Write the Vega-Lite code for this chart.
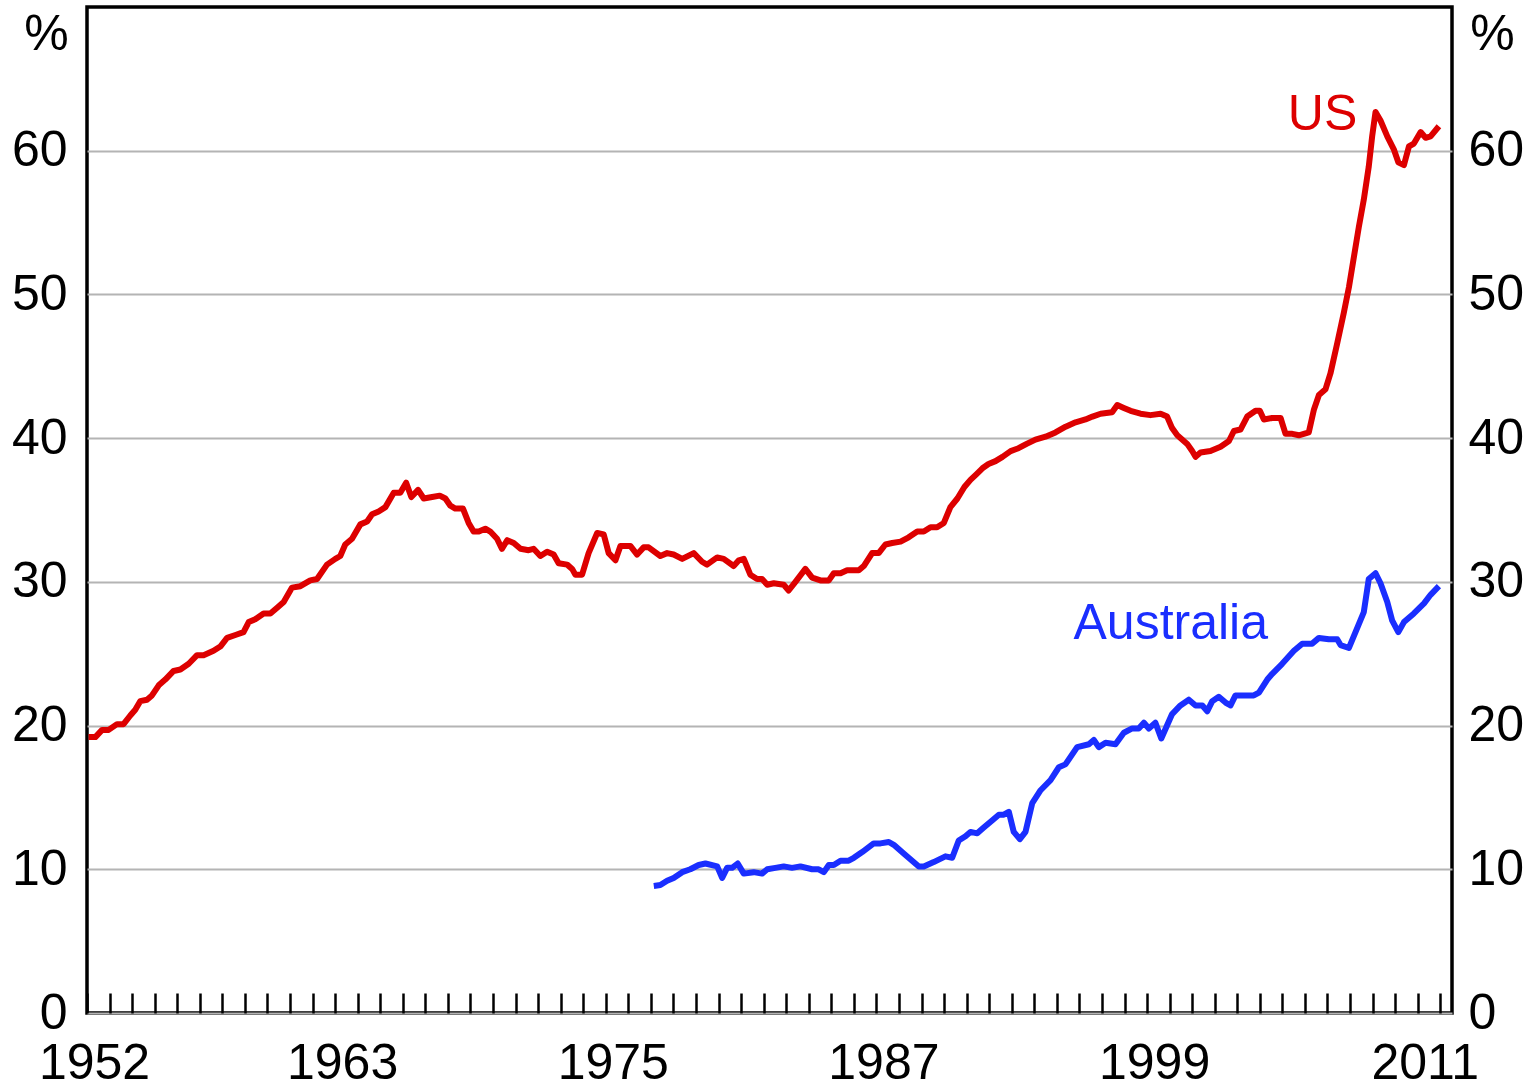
{
  "$schema": "https://vega.github.io/schema/vega-lite/v6.json",
  "width": 1365,
  "height": 1006,
  "autosize": "none",
  "padding": {"left": 87, "top": 7, "right": 84, "bottom": 70},
  "background": "white",
  "config": {
    "view": {"stroke": "black", "strokeWidth": 3.5},
    "font": "Liberation Sans",
    "axis": {"labelColor": "black", "labelFontSize": 50, "titleColor": "black", "titleFontSize": 50, "titleFontWeight": "normal", "labelFont": "Liberation Sans", "titleFont": "Liberation Sans"}
  },
  "datasets": {
    "us": [
      {"year": 1952.07, "value": 19.2}, {"year": 1952.37, "value": 19.2}, {"year": 1952.67, "value": 19.7}, {"year": 1952.96, "value": 19.7},
      {"year": 1953.33, "value": 20.1}, {"year": 1953.62, "value": 20.1}, {"year": 1953.92, "value": 20.7}, {"year": 1954.14, "value": 21.1},
      {"year": 1954.36, "value": 21.7}, {"year": 1954.66, "value": 21.8}, {"year": 1954.88, "value": 22.1}, {"year": 1955.18, "value": 22.8},
      {"year": 1955.47, "value": 23.2}, {"year": 1955.84, "value": 23.8}, {"year": 1956.14, "value": 23.9}, {"year": 1956.51, "value": 24.3},
      {"year": 1956.88, "value": 24.9}, {"year": 1957.17, "value": 24.9}, {"year": 1957.61, "value": 25.2}, {"year": 1957.91, "value": 25.5},
      {"year": 1958.21, "value": 26.1}, {"year": 1958.58, "value": 26.3}, {"year": 1958.94, "value": 26.5}, {"year": 1959.17, "value": 27.2},
      {"year": 1959.46, "value": 27.4}, {"year": 1959.83, "value": 27.8}, {"year": 1960.13, "value": 27.8}, {"year": 1960.43, "value": 28.2},
      {"year": 1960.72, "value": 28.6}, {"year": 1961.09, "value": 29.6}, {"year": 1961.46, "value": 29.7}, {"year": 1961.90, "value": 30.1},
      {"year": 1962.20, "value": 30.2}, {"year": 1962.64, "value": 31.2}, {"year": 1963.01, "value": 31.6}, {"year": 1963.23, "value": 31.8},
      {"year": 1963.45, "value": 32.6}, {"year": 1963.75, "value": 33.0}, {"year": 1964.12, "value": 34.0}, {"year": 1964.42, "value": 34.2},
      {"year": 1964.64, "value": 34.7}, {"year": 1964.93, "value": 34.9}, {"year": 1965.23, "value": 35.2}, {"year": 1965.60, "value": 36.2},
      {"year": 1965.89, "value": 36.2}, {"year": 1966.15, "value": 36.9}, {"year": 1966.38, "value": 35.9}, {"year": 1966.68, "value": 36.4},
      {"year": 1966.93, "value": 35.8}, {"year": 1967.30, "value": 35.9}, {"year": 1967.64, "value": 36.0}, {"year": 1967.89, "value": 35.8},
      {"year": 1968.11, "value": 35.3}, {"year": 1968.33, "value": 35.1}, {"year": 1968.67, "value": 35.1}, {"year": 1968.92, "value": 34.1},
      {"year": 1969.14, "value": 33.5}, {"year": 1969.37, "value": 33.5}, {"year": 1969.66, "value": 33.7}, {"year": 1969.88, "value": 33.5},
      {"year": 1970.18, "value": 33.0}, {"year": 1970.40, "value": 32.3}, {"year": 1970.63, "value": 32.9}, {"year": 1970.92, "value": 32.7},
      {"year": 1971.22, "value": 32.3}, {"year": 1971.58, "value": 32.2}, {"year": 1971.80, "value": 32.3}, {"year": 1972.10, "value": 31.8},
      {"year": 1972.40, "value": 32.1}, {"year": 1972.69, "value": 31.9}, {"year": 1972.91, "value": 31.3}, {"year": 1973.29, "value": 31.2},
      {"year": 1973.51, "value": 30.9}, {"year": 1973.65, "value": 30.5}, {"year": 1973.95, "value": 30.5}, {"year": 1974.24, "value": 32.0},
      {"year": 1974.62, "value": 33.4}, {"year": 1974.91, "value": 33.3}, {"year": 1975.13, "value": 32.0}, {"year": 1975.43, "value": 31.5},
      {"year": 1975.65, "value": 32.5}, {"year": 1976.09, "value": 32.5}, {"year": 1976.39, "value": 31.9}, {"year": 1976.68, "value": 32.4},
      {"year": 1976.90, "value": 32.4}, {"year": 1977.42, "value": 31.8}, {"year": 1977.72, "value": 32.0}, {"year": 1978.01, "value": 31.9},
      {"year": 1978.39, "value": 31.6}, {"year": 1978.90, "value": 32.0}, {"year": 1979.27, "value": 31.4}, {"year": 1979.49, "value": 31.2},
      {"year": 1979.94, "value": 31.7}, {"year": 1980.23, "value": 31.6}, {"year": 1980.67, "value": 31.1}, {"year": 1980.90, "value": 31.5},
      {"year": 1981.12, "value": 31.6}, {"year": 1981.41, "value": 30.5}, {"year": 1981.71, "value": 30.2}, {"year": 1981.93, "value": 30.2},
      {"year": 1982.16, "value": 29.8}, {"year": 1982.45, "value": 29.9}, {"year": 1982.89, "value": 29.8}, {"year": 1983.11, "value": 29.4},
      {"year": 1983.41, "value": 30.0}, {"year": 1983.85, "value": 30.9}, {"year": 1984.15, "value": 30.3}, {"year": 1984.52, "value": 30.1},
      {"year": 1984.89, "value": 30.1}, {"year": 1985.11, "value": 30.6}, {"year": 1985.41, "value": 30.6}, {"year": 1985.70, "value": 30.8},
      {"year": 1986.22, "value": 30.8}, {"year": 1986.44, "value": 31.1}, {"year": 1986.81, "value": 32.0}, {"year": 1987.10, "value": 32.0},
      {"year": 1987.40, "value": 32.6}, {"year": 1987.70, "value": 32.7}, {"year": 1988.07, "value": 32.8}, {"year": 1988.43, "value": 33.1},
      {"year": 1988.81, "value": 33.5}, {"year": 1989.10, "value": 33.5}, {"year": 1989.40, "value": 33.8}, {"year": 1989.69, "value": 33.8},
      {"year": 1989.99, "value": 34.1}, {"year": 1990.28, "value": 35.2}, {"year": 1990.59, "value": 35.8}, {"year": 1990.90, "value": 36.6},
      {"year": 1991.17, "value": 37.1}, {"year": 1991.44, "value": 37.5}, {"year": 1991.70, "value": 37.9}, {"year": 1991.97, "value": 38.2},
      {"year": 1992.28, "value": 38.4}, {"year": 1992.59, "value": 38.7}, {"year": 1992.95, "value": 39.1}, {"year": 1993.30, "value": 39.3},
      {"year": 1993.66, "value": 39.6}, {"year": 1994.05, "value": 39.9}, {"year": 1994.50, "value": 40.1}, {"year": 1994.94, "value": 40.4},
      {"year": 1995.39, "value": 40.8}, {"year": 1995.83, "value": 41.1}, {"year": 1996.27, "value": 41.3}, {"year": 1996.58, "value": 41.5},
      {"year": 1996.94, "value": 41.7}, {"year": 1997.45, "value": 41.8}, {"year": 1997.68, "value": 42.3}, {"year": 1997.97, "value": 42.1},
      {"year": 1998.27, "value": 41.9}, {"year": 1998.71, "value": 41.7}, {"year": 1999.15, "value": 41.6}, {"year": 1999.60, "value": 41.7},
      {"year": 1999.89, "value": 41.5}, {"year": 2000.11, "value": 40.7}, {"year": 2000.34, "value": 40.2}, {"year": 2000.78, "value": 39.6},
      {"year": 2001.00, "value": 39.1}, {"year": 2001.15, "value": 38.7}, {"year": 2001.37, "value": 39.0}, {"year": 2001.81, "value": 39.1},
      {"year": 2002.26, "value": 39.4}, {"year": 2002.63, "value": 39.8}, {"year": 2002.85, "value": 40.5}, {"year": 2003.14, "value": 40.6},
      {"year": 2003.44, "value": 41.5}, {"year": 2003.81, "value": 41.9}, {"year": 2004.00, "value": 41.9}, {"year": 2004.18, "value": 41.3},
      {"year": 2004.55, "value": 41.4}, {"year": 2004.92, "value": 41.4}, {"year": 2005.14, "value": 40.3}, {"year": 2005.44, "value": 40.3},
      {"year": 2005.73, "value": 40.2}, {"year": 2006.17, "value": 40.4}, {"year": 2006.40, "value": 42.0}, {"year": 2006.62, "value": 43.0},
      {"year": 2006.91, "value": 43.4}, {"year": 2007.13, "value": 44.5}, {"year": 2007.43, "value": 46.6}, {"year": 2007.72, "value": 48.7},
      {"year": 2007.95, "value": 50.5}, {"year": 2008.17, "value": 52.6}, {"year": 2008.39, "value": 54.7}, {"year": 2008.61, "value": 56.6},
      {"year": 2008.83, "value": 58.9}, {"year": 2008.98, "value": 61.0}, {"year": 2009.13, "value": 62.7}, {"year": 2009.35, "value": 62.1},
      {"year": 2009.65, "value": 61.0}, {"year": 2009.94, "value": 60.1}, {"year": 2010.14, "value": 59.2}, {"year": 2010.39, "value": 59.0},
      {"year": 2010.61, "value": 60.3}, {"year": 2010.83, "value": 60.5}, {"year": 2011.13, "value": 61.3}, {"year": 2011.35, "value": 60.9},
      {"year": 2011.57, "value": 61.0}, {"year": 2011.94, "value": 61.7}
    ],
    "au": [
      {"year": 1977.13, "value": 8.84}, {"year": 1977.42, "value": 8.9}, {"year": 1977.72, "value": 9.2}, {"year": 1978.01, "value": 9.4},
      {"year": 1978.39, "value": 9.8}, {"year": 1978.75, "value": 10.0}, {"year": 1979.12, "value": 10.3}, {"year": 1979.42, "value": 10.4},
      {"year": 1979.94, "value": 10.2}, {"year": 1980.16, "value": 9.4}, {"year": 1980.38, "value": 10.1}, {"year": 1980.60, "value": 10.1},
      {"year": 1980.85, "value": 10.4}, {"year": 1981.12, "value": 9.7}, {"year": 1981.56, "value": 9.8}, {"year": 1981.93, "value": 9.7},
      {"year": 1982.16, "value": 10.0}, {"year": 1982.52, "value": 10.1}, {"year": 1982.89, "value": 10.2}, {"year": 1983.26, "value": 10.1},
      {"year": 1983.63, "value": 10.2}, {"year": 1984.15, "value": 10.0}, {"year": 1984.44, "value": 10.0}, {"year": 1984.67, "value": 9.8},
      {"year": 1984.89, "value": 10.3}, {"year": 1985.11, "value": 10.3}, {"year": 1985.41, "value": 10.6}, {"year": 1985.77, "value": 10.6},
      {"year": 1986.00, "value": 10.8}, {"year": 1986.37, "value": 11.2}, {"year": 1986.88, "value": 11.8}, {"year": 1987.18, "value": 11.8},
      {"year": 1987.55, "value": 11.9}, {"year": 1987.77, "value": 11.7}, {"year": 1988.21, "value": 11.1}, {"year": 1988.88, "value": 10.2},
      {"year": 1989.10, "value": 10.2}, {"year": 1989.54, "value": 10.5}, {"year": 1990.06, "value": 10.9}, {"year": 1990.36, "value": 10.8},
      {"year": 1990.65, "value": 12.0}, {"year": 1990.95, "value": 12.3}, {"year": 1991.17, "value": 12.6}, {"year": 1991.47, "value": 12.5},
      {"year": 1991.76, "value": 12.9}, {"year": 1992.13, "value": 13.4}, {"year": 1992.43, "value": 13.8}, {"year": 1992.65, "value": 13.8},
      {"year": 1992.87, "value": 14.0}, {"year": 1993.09, "value": 12.6}, {"year": 1993.36, "value": 12.1}, {"year": 1993.61, "value": 12.6},
      {"year": 1993.91, "value": 14.6}, {"year": 1994.28, "value": 15.5}, {"year": 1994.72, "value": 16.2}, {"year": 1995.09, "value": 17.1},
      {"year": 1995.38, "value": 17.3}, {"year": 1995.90, "value": 18.5}, {"year": 1996.42, "value": 18.7}, {"year": 1996.64, "value": 19.0},
      {"year": 1996.86, "value": 18.5}, {"year": 1997.16, "value": 18.8}, {"year": 1997.60, "value": 18.7}, {"year": 1997.97, "value": 19.5},
      {"year": 1998.34, "value": 19.8}, {"year": 1998.63, "value": 19.8}, {"year": 1998.86, "value": 20.2}, {"year": 1999.08, "value": 19.8},
      {"year": 1999.37, "value": 20.2}, {"year": 1999.63, "value": 19.1}, {"year": 2000.11, "value": 20.8}, {"year": 2000.48, "value": 21.4},
      {"year": 2000.85, "value": 21.8}, {"year": 2001.15, "value": 21.4}, {"year": 2001.45, "value": 21.4}, {"year": 2001.67, "value": 21.0},
      {"year": 2001.89, "value": 21.7}, {"year": 2002.18, "value": 22.0}, {"year": 2002.48, "value": 21.6}, {"year": 2002.70, "value": 21.4},
      {"year": 2002.92, "value": 22.1}, {"year": 2003.37, "value": 22.1}, {"year": 2003.73, "value": 22.1}, {"year": 2003.96, "value": 22.3},
      {"year": 2004.33, "value": 23.2}, {"year": 2004.55, "value": 23.6}, {"year": 2004.99, "value": 24.3}, {"year": 2005.51, "value": 25.2},
      {"year": 2005.88, "value": 25.7}, {"year": 2006.32, "value": 25.7}, {"year": 2006.62, "value": 26.1}, {"year": 2007.06, "value": 26.0},
      {"year": 2007.43, "value": 26.0}, {"year": 2007.58, "value": 25.6}, {"year": 2007.95, "value": 25.4}, {"year": 2008.32, "value": 26.8},
      {"year": 2008.61, "value": 27.9}, {"year": 2008.83, "value": 30.2}, {"year": 2009.13, "value": 30.6}, {"year": 2009.35, "value": 29.9},
      {"year": 2009.65, "value": 28.6}, {"year": 2009.87, "value": 27.3}, {"year": 2010.14, "value": 26.5}, {"year": 2010.39, "value": 27.2},
      {"year": 2010.83, "value": 27.8}, {"year": 2011.28, "value": 28.5}, {"year": 2011.57, "value": 29.1}, {"year": 2011.94, "value": 29.7}
    ],
    "labels": [
      {"year": 2006.78, "value": 62.5, "label": "US", "series": "US"},
      {"year": 2000.05, "value": 27.1, "label": "Australia", "series": "Australia"}
    ]
  },
  "encoding": {
    "x": {
      "field": "year",
      "type": "quantitative",
      "scale": {"domain": [1952, 2012.52], "nice": false, "zero": false},
      "axis": {
        "values": [1952,1953,1954,1955,1956,1957,1958,1959,1960,1961,1962,1963,1964,1965,1966,1967,1968,1969,1970,1971,1972,1973,1974,1975,1976,1977,1978,1979,1980,1981,1982,1983,1984,1985,1986,1987,1988,1989,1990,1991,1992,1993,1994,1995,1996,1997,1998,1999,2000,2001,2002,2003,2004,2005,2006,2007,2008,2009,2010,2011,2012],
        "format": "d",
        "labelExpr": "indexof(['1952','1963','1975','1987','1999','2011'], datum.label) >= 0 ? datum.label : ''",
        "labelOffset": 7,
        "labelOverlap": false,
        "labelFlush": false,
        "labelBaseline": "alphabetic",
        "labelPadding": 85,
        "tickSize": -20,
        "tickWidth": 2.5,
        "tickColor": "black",
        "domain": false,
        "grid": false,
        "title": null
      }
    }
  },
  "layer": [
    {
      "data": {"name": "us"},
      "mark": {"type": "line", "color": "#dd0000", "strokeWidth": 6, "strokeJoin": "round", "clip": true},
      "encoding": {
        "y": {
          "field": "value",
          "type": "quantitative",
          "scale": {"domain": [0, 70], "nice": false},
          "axis": {
            "orient": "left",
            "values": [0, 10, 20, 30, 40, 50, 60],
            "grid": true,
            "gridColor": "#b4b4b4",
            "gridWidth": 2,
            "ticks": false,
            "domain": false,
            "labelPadding": 20,
            "title": "%",
            "titleAngle": 0,
            "titleAlign": "center",
            "titleBaseline": "middle",
            "titleX": -41,
            "titleY": 27
          }
        }
      }
    },
    {
      "data": {"name": "au"},
      "mark": {"type": "line", "color": "#1a2eff", "strokeWidth": 6, "strokeJoin": "round", "clip": true},
      "encoding": {
        "y": {
          "field": "value",
          "type": "quantitative",
          "scale": {"domain": [0, 70], "nice": false},
          "axis": {
            "orient": "right",
            "values": [0, 10, 20, 30, 40, 50, 60],
            "grid": false,
            "ticks": false,
            "domain": false,
            "labelPadding": 16,
            "title": "%",
            "titleAngle": 0,
            "titleAlign": "center",
            "titleBaseline": "middle",
            "titleX": 40,
            "titleY": 27
          }
        }
      }
    },
    {
      "data": {"name": "labels"},
      "mark": {"type": "text", "fontSize": 50, "font": "Liberation Sans", "align": "center", "baseline": "middle"},
      "encoding": {
        "y": {"field": "value", "type": "quantitative", "scale": {"domain": [0, 70], "nice": false}, "axis": null},
        "text": {"field": "label"},
        "color": {"field": "series", "type": "nominal", "scale": {"domain": ["US", "Australia"], "range": ["#dd0000", "#1a2eff"]}, "legend": null}
      }
    }
  ],
  "resolve": {"scale": {"y": "independent"}}
}
